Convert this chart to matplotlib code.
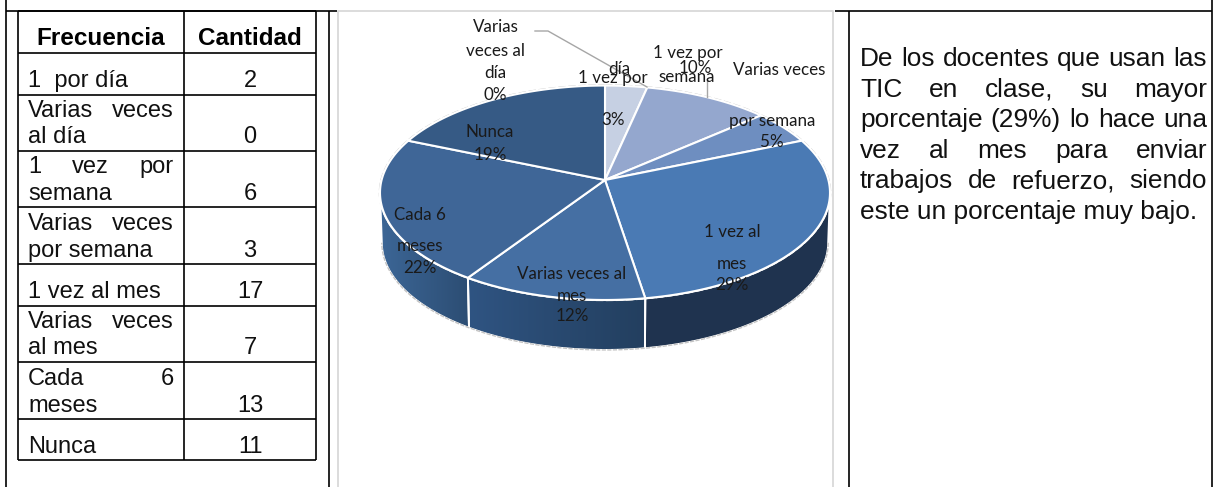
import numpy as np
import matplotlib
matplotlib.use("Agg")
import matplotlib.pyplot as plt
from matplotlib.patches import Polygon

# data
frecuencia = ["1 por día", "Varias veces al día", "1 vez por semana", "Varias veces por semana",
              "1 vez al mes", "Varias veces al mes", "Cada 6 meses", "Nunca"]
cantidad = [2, 0, 6, 3, 17, 7, 13, 11]
cabecera = ["Frecuencia", "Cantidad"]
comentario = ["De los docentes que usan las", "TIC en clase, su mayor", "porcentaje (29%) lo hace una",
              "vez al mes para enviar", "trabajos de refuerzo, siendo", "este un porcentaje muy bajo."]

# word wraps used inside the table and the pie labels
filas_tabla = [["1  por día"], ["Varias veces", "al día"], ["1 vez por", "semana"], ["Varias veces", "por semana"],
               ["1 vez al mes"], ["Varias veces", "al mes"], ["Cada 6", "meses"], ["Nunca"]]
lineas_pie = [["día", "1 vez por"], ["Varias", "veces al", "día"], ["1 vez por", "semana"], ["Varias veces", "por semana"],
              ["1 vez al", "mes"], ["Varias veces al", "mes"], ["Cada 6", "meses"], ["Nunca"]]

# slice colours
col_top = ["#c6d0e3", "#c6d0e3", "#94a7ce", "#6e8ec0", "#4a7ab4", "#456fa3", "#3f6697", "#365a85"]

# wall gradients (left colour, right colour) per slice index
col_wall = {4: ("#1f3350", "#20344f"), 5: ("#2f5482", "#233f5f"), 6: ("#3c6696", "#2c4d73")}

fig = plt.figure(figsize=(12.14, 4.87), dpi=100)
ax = fig.add_axes([0, 0, 1, 1])
ax.set_xlim(0, 1214)
ax.set_ylim(487, 0)
ax.axis("off")

ARIAL = "Liberation Sans"
PX = 0.72
size_tab = 23.6 * PX
size_com = 26.2 * PX
size_pie = 17.0 * PX
renderer = fig.canvas.get_renderer()


def justified(text, x0, x1, y, size):
    # word by word, like a justified line in Word
    words = text.split()
    items = [ax.text(0, y, w, fontsize=size, family=ARIAL, va="baseline", color="#111111") for w in words]
    widths = [t.get_window_extent(renderer).width for t in items]
    gap = (x1 - x0 - sum(widths)) / max(len(words) - 1, 1)
    x = x0
    for t, w in zip(items, widths):
        t.set_x(x)
        x += w + gap


# ---------------------------------------------------------
# Outer layout lines
# ---------------------------------------------------------
black = dict(color="black", lw=1.2, solid_capstyle="butt")
ax.plot([5.5, 5.5], [0, 487], **black)
ax.plot([328.5, 328.5], [11, 487], **black)
ax.plot([849, 849], [11, 487], **black)
ax.plot([1212, 1212], [0, 487], **black)
ax.plot([5.5, 337], [11, 11], **black)
ax.plot([835, 1212], [11, 11], **black)

grey = dict(color="#d9d9d9", lw=1.3, solid_capstyle="butt")
ax.plot([338, 338, 833, 833], [487, 11, 11, 487], **grey)

# ---------------------------------------------------------
# Table
# ---------------------------------------------------------
x_tab = [18, 184, 316]
y_tab = [11, 52.5, 94.7, 150.7, 207, 264, 305.7, 362, 418.7, 460]
for x in x_tab:
    ax.plot([x, x], [y_tab[0], y_tab[-1]], **black)
for y in y_tab:
    ax.plot([x_tab[0], x_tab[-1]], [y, y], **black)

ax.text(100.5, 45, cabecera[0], fontsize=size_tab * 1.03, family=ARIAL, weight="bold", ha="center", va="baseline")
ax.text(250, 45, cabecera[1], fontsize=size_tab * 1.03, family=ARIAL, weight="bold", ha="center", va="baseline")

base_lines = [[87], [116.7, 143.3], [173, 200], [229.7, 256.7], [298.3], [327.7, 354], [385, 411.7], [453.3]]
for fila, bases, n in zip(filas_tabla, base_lines, cantidad):
    for j, (line, y) in enumerate(zip(fila, bases)):
        if len(fila) > 1 and j == 0:
            justified(line, 28, 174, y, size_tab)
        else:
            ax.text(28, y, line, fontsize=size_tab, family=ARIAL, va="baseline", color="#111111")
    ax.text(250, bases[-1], str(n), fontsize=size_tab, family=ARIAL, ha="center", va="baseline", color="#111111")

# ---------------------------------------------------------
# Pie seen in perspective
# ---------------------------------------------------------
hub_x, hub_y = 605, 180
R, a, k = 223.4, 105.7, 0.119
depth = 50

total = sum(cantidad)
edges = np.concatenate([[0], np.cumsum(cantidad)]) / total * 360


def project(theta):
    th = np.radians(theta)
    u, v = np.sin(th), np.cos(th)
    d = 1 + k * v
    return hub_x + R * u / d, hub_y - a * v / d


front_a = np.degrees(np.arccos(-k))
front_b = 360 - front_a

# side wall
for i, (c0, c1) in col_wall.items():
    t0, t1 = max(edges[i], front_a), min(edges[i + 1], front_b)
    th = np.linspace(t0, t1, 80)
    x, y = project(th)
    xb = hub_x + (x - hub_x) * 0.992
    yb = y + depth
    pts = np.vstack([np.column_stack([x, y]), np.column_stack([xb[::-1], yb[::-1]])])
    poly = Polygon(pts, closed=True, fc="none", ec="none")
    ax.add_patch(poly)
    rgb0, rgb1 = np.array(matplotlib.colors.to_rgb(c0)), np.array(matplotlib.colors.to_rgb(c1))
    grad = np.linspace(0, 1, 128)[None, :, None]
    img = ax.imshow(rgb0 + (rgb1 - rgb0) * grad, extent=[pts[:, 0].min(), pts[:, 0].max(), pts[:, 1].max(), pts[:, 1].min()],
                    aspect="auto", zorder=1)
    img.set_clip_path(poly)
    ax.add_patch(Polygon(pts, closed=True, fc="none", ec="white", lw=1.4, zorder=1.5))

ax.set_xlim(0, 1214)
ax.set_ylim(487, 0)

# rim of the whole shape
th = np.linspace(0, 360, 400)
x, y = project(th)
ax.plot(x, y, color="#c4c4c4", lw=1.8, zorder=1.2, ls=(0, (3, 1)))
th = np.linspace(front_a, front_b, 200)
x, y = project(th)
ax.plot(hub_x + (x - hub_x) * 0.992, y + depth, color="#c4c4c4", lw=1.0, zorder=1.6, ls=(0, (3, 1)))

# top of the pie
for i, n in enumerate(cantidad):
    if n == 0:
        continue
    x, y = project(np.linspace(edges[i], edges[i + 1], 80))
    pts = np.column_stack([np.r_[hub_x, x], np.r_[hub_y, y]])
    ax.add_patch(Polygon(pts, closed=True, fc=col_top[i], ec="white", lw=1.5, joinstyle="round", zorder=2))

# leader lines
ax.plot([535, 548, 647], [31, 31, 87], color="#a6a6a6", lw=1.0, zorder=3)
ax.plot([707, 707], [80, 97], color="#a6a6a6", lw=1.0, zorder=3)

# ---------------------------------------------------------
# Pie labels
# ---------------------------------------------------------
pct = [f"{round(n / total * 100)}%" for n in cantidad]
label_pos = [
    [(619, 69), (612.7, 77.7), (613, 120)],
    [(495.7, 27), (495.7, 50.7), (495.7, 73), (495.7, 95)],
    [(687.7, 52.7), (687, 76.7), (695, 67.7)],
    [(778.7, 70.3), (772, 120.7), (772, 141.7)],
    [(732, 232), (732, 263.7), (732, 285)],
    [(572, 274), (572, 295.7), (572, 316)],
    [(420, 215), (420, 245.7), (420, 267.7)],
    [(490, 132.3), (490, 155)],
]
for lines, p, pos in zip(lineas_pie, pct, label_pos):
    for s, (x, y) in zip(lines + [p], pos):
        ax.text(x, y, s, fontsize=size_pie, family="Lato", ha="center", va="center", color="#1a1a1a", zorder=4)

# ---------------------------------------------------------
# Comment on the right
# ---------------------------------------------------------
y_com = [66, 97, 127, 158, 188, 219]
for line, y in zip(comentario[:-1], y_com[:-1]):
    justified(line, 860, 1207, y, size_com)
ax.text(860, y_com[-1], comentario[-1], fontsize=size_com, family=ARIAL, va="baseline", color="#111111")

fig.savefig("out.png", dpi=100)
plt.close(fig)
